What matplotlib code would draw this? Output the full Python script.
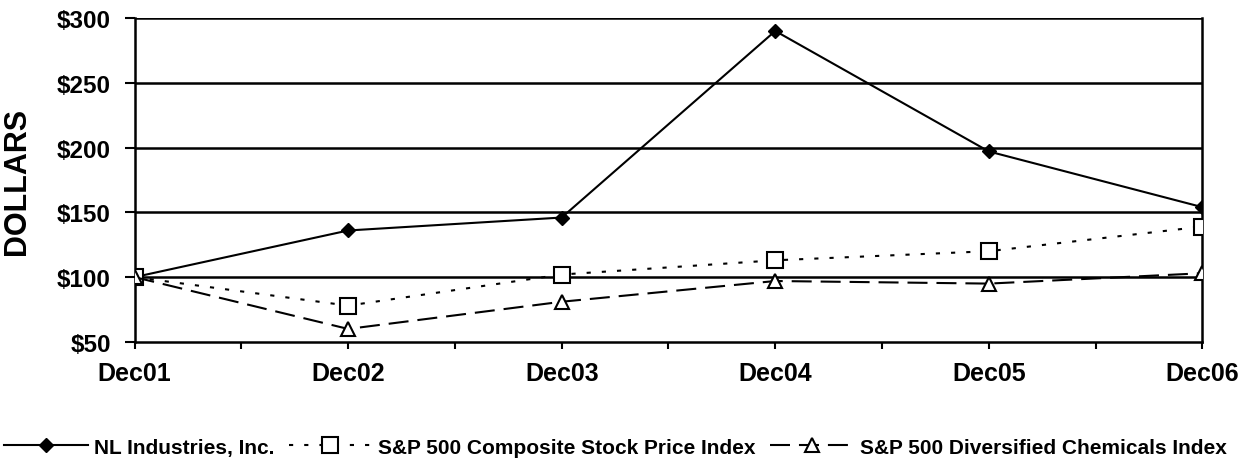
import matplotlib.pyplot as plt
import numpy as np

plt.rcParams['font.family'] = ['Liberation Sans', 'DejaVu Sans']

# Data
years = ["Dec01", "Dec02", "Dec03", "Dec04", "Dec05", "Dec06"]
nl_industries = [100, 136, 146, 290, 197, 154]
sp500_composite = [100, 78, 102, 113, 120, 139]
sp500_chemicals = [100, 60, 81, 97, 95, 103]
y_ticks = [50, 100, 150, 200, 250, 300]
y_labels = ["$50", "$100", "$150", "$200", "$250", "$300"]

x = np.arange(len(years))

fig = plt.figure(figsize=(12.46, 4.64), dpi=100)
ax = fig.add_axes([0.108, 0.261, 0.857, 0.698])

# horizontal grid lines
for y in y_ticks[1:]:
    ax.axhline(y, color='black', lw=1.8, zorder=1)

ax.plot(x, nl_industries, color='black', lw=1.5, marker='D', markersize=7,
        markerfacecolor='black', label="NL Industries, Inc.", zorder=3)
ax.plot(x, sp500_composite, color='black', lw=1.5, linestyle=(0, (2, 5.3)),
        marker='s', markersize=11, markerfacecolor='white', markeredgewidth=1.5,
        label="S&P 500 Composite Stock Price Index", zorder=3)
ax.plot(x, sp500_chemicals, color='black', lw=1.5, linestyle=(0, (9.6, 4.3)),
        marker='^', markersize=10, markerfacecolor='white', markeredgewidth=1.5,
        label="S&P 500 Diversified Chemicals Index", zorder=3)

ax.set_xlim(0, len(years) - 1)
ax.set_ylim(50, 300)
ax.set_yticks(y_ticks)
ax.set_yticklabels(y_labels, fontsize=17.5, fontweight='bold')
ax.set_xticks(x)
ax.set_xticklabels(years, fontsize=18, fontweight='bold')
ax.set_xticks(x[:-1] + 0.5, minor=True)
ax.tick_params(axis='x', which='both', direction='out', length=5, width=1.5, pad=9)
ax.tick_params(axis='y', direction='out', length=7, width=1.5, pad=10)
ax.set_ylabel("DOLLARS", fontsize=22, fontweight='bold')
ax.yaxis.set_label_coords(-0.096, 0.5)

ax.spines['top'].set_visible(False)
for s in ['left', 'right', 'bottom']:
    ax.spines[s].set_linewidth(1.8)

fig.legend(loc='center', bbox_to_anchor=(0.494, 0.034), ncol=3, frameon=False,
           handlelength=4.0, columnspacing=0.7, handletextpad=0.3,
           prop={'weight': 'bold', 'size': 15})

plt.savefig("out.png", dpi=100)
